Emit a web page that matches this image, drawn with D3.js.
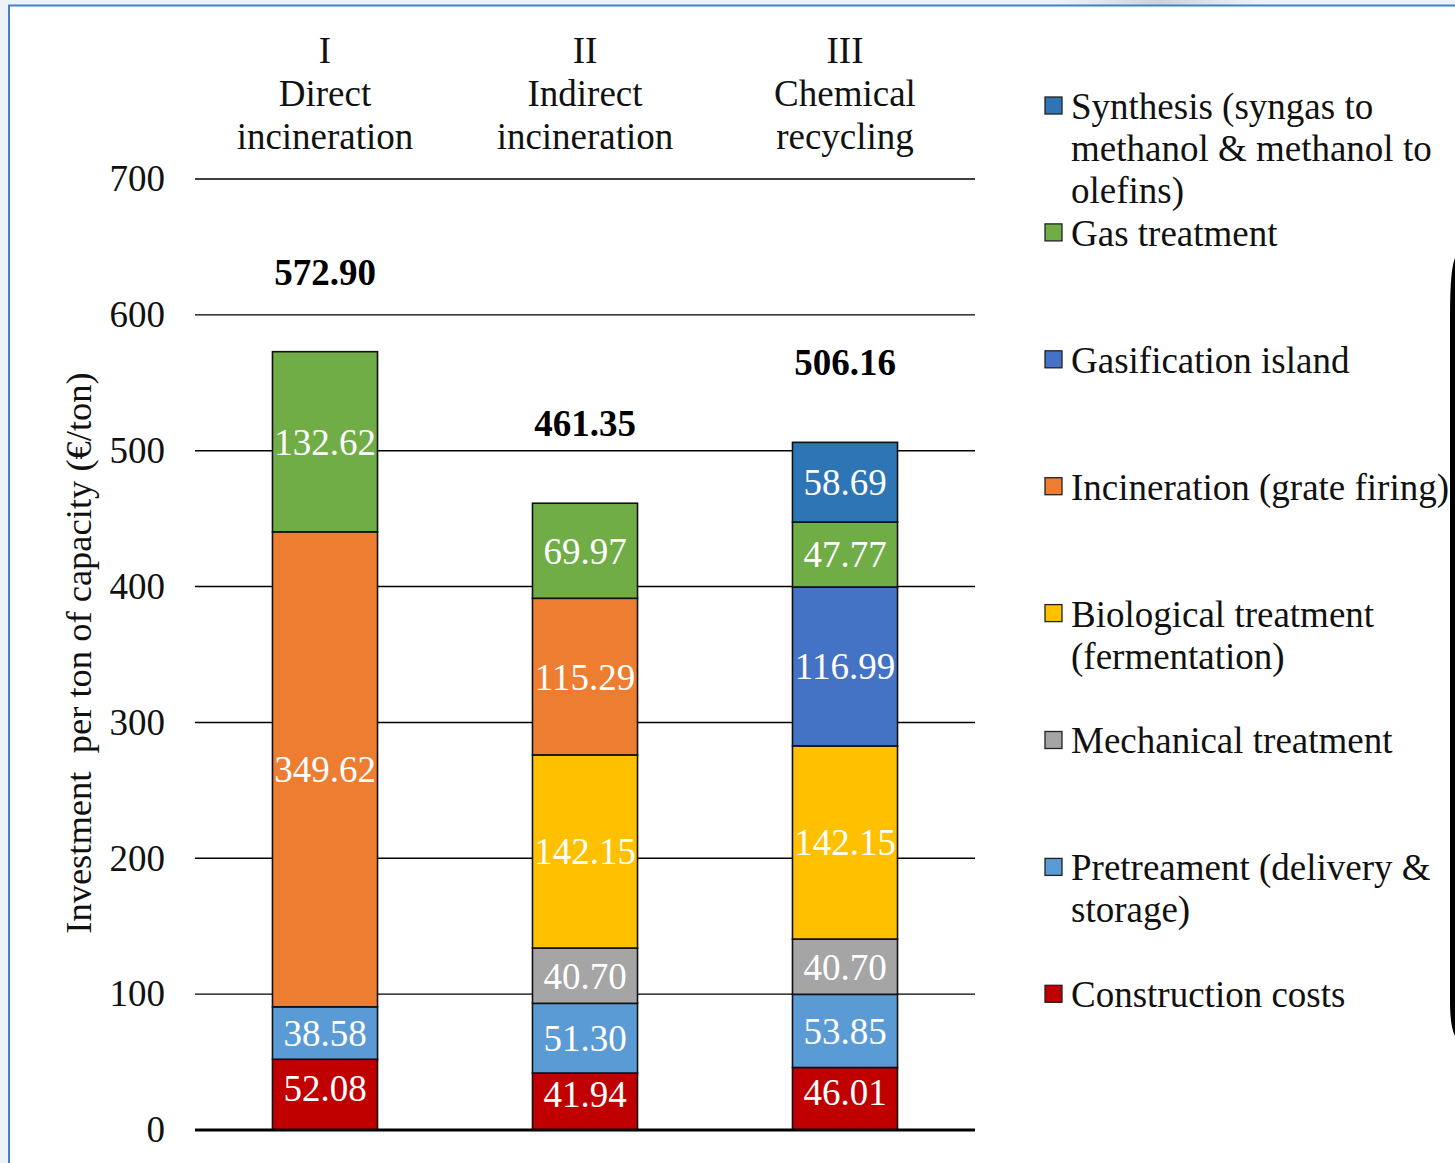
<!DOCTYPE html>
<html>
<head>
<meta charset="utf-8">
<script src="https://cdn.jsdelivr.net/npm/d3@7"></script>
<style>
  html, body { margin: 0; padding: 0; background: #eef2f8; }
  svg { display: block; }
</style>
</head>
<body>
<svg id="chart" width="1455" height="1163"></svg>
<script>
// Investment per ton of capacity by plant concept (€/ton)
const categories = ["I\nDirect\nincineration", "II\nIndirect\nincineration", "III\nChemical\nrecycling"];
const components = [
  "Construction costs",
  "Pretreament (delivery & storage)",
  "Mechanical treatment",
  "Biological treatment (fermentation)",
  "Incineration (grate firing)",
  "Gasification island",
  "Gas treatment",
  "Synthesis (syngas to methanol & methanol to olefins)"
];
const componentColors = ["#C00000", "#5B9BD5", "#A5A5A5", "#FFC000", "#ED7D31", "#4472C4", "#70AD47", "#2E75B6"];
// values per component, ordered like categories
const construction = [52.08, 41.94, 46.01];
const pretreatment = [38.58, 51.30, 53.85];
const mechanical   = [0, 40.70, 40.70];
const biological   = [0, 142.15, 142.15];
const incineration = [349.62, 115.29, 0];
const gasification = [0, 0, 116.99];
const gasTreatment = [132.62, 69.97, 47.77];
const synthesis    = [0, 0, 58.69];
const totals = [572.90, 461.35, 506.16];
const yTicks = [0, 100, 200, 300, 400, 500, 600, 700];
// legend text lines (top to bottom)
const legendLines = [
  ["Synthesis (syngas to", "methanol & methanol to", "olefins)"],
  ["Gas treatment"],
  ["Gasification island"],
  ["Incineration (grate firing)"],
  ["Biological treatment", "(fermentation)"],
  ["Mechanical treatment"],
  ["Pretreament (delivery &", "storage)"],
  ["Construction costs"]
];

const seriesValues = [construction, pretreatment, mechanical, biological, incineration, gasification, gasTreatment, synthesis];
const table = categories.map((c, i) => {
  const row = { category: c };
  components.forEach((k, j) => row[k] = seriesValues[j][i]);
  return row;
});

const svg = d3.select("#chart");
const W = 1455, H = 1163;
const font = "'Liberation Serif', 'Times New Roman', serif";
const fs = 37;

// page frame
svg.append("rect").attr("x", 9).attr("y", 5).attr("width", W - 9).attr("height", H - 5)
  .attr("fill", "#ffffff");
const shade = svg.append("defs").append("linearGradient").attr("id", "topShade");
shade.append("stop").attr("offset", "0").attr("stop-color", "#eef2f8");
shade.append("stop").attr("offset", "0.5").attr("stop-color", "#cfd2dc");
shade.append("stop").attr("offset", "1").attr("stop-color", "#eef2f8");
svg.append("rect").attr("x", 1060).attr("y", 0).attr("width", 200).attr("height", 5).attr("fill", "url(#topShade)");
svg.append("path").attr("d", `M9,${H} V5.5 H${W}`).attr("fill", "none")
  .attr("stroke", "#3f83c4").attr("stroke-width", 2);
svg.append("path")
  .attr("d", "M1455,258 C1451,268 1450,290 1450,320 L1450,1000 C1450,1015 1451,1028 1455,1036 Z")
  .attr("fill", "#000");

const x = d3.scaleBand().domain(categories).range([195, 975]).paddingInner(0.596).paddingOuter(0.298);
const y = d3.scaleLinear().domain([0, 700]).range([1130, 179]);

// gridlines
const grid = svg.append("g");
grid.selectAll("line").data(yTicks.filter(t => t > 0)).join("line")
  .attr("x1", 195).attr("x2", 975)
  .attr("y1", d => y(d)).attr("y2", d => y(d))
  .attr("stroke", "#000").attr("stroke-width", 1.4);

// y axis labels
const yAxis = svg.append("g").attr("transform", "translate(195,0)")
  .call(d3.axisLeft(y).tickValues(yTicks).tickSize(0).tickPadding(30));
yAxis.select(".domain").remove();
yAxis.selectAll("text").attr("font-family", font).attr("font-size", fs).attr("fill", "#111");

// stacked bars
const stack = d3.stack().keys(components);
const layers = stack(table);
const segs = svg.append("g");
layers.forEach((layer, j) => {
  const g = segs.append("g");
  layer.forEach(d => {
    const v = d[1] - d[0];
    if (v <= 0) return;
    const cx = x(d.data.category);
    g.append("rect")
      .attr("x", cx).attr("width", x.bandwidth())
      .attr("y", y(d[1])).attr("height", y(d[0]) - y(d[1]))
      .attr("fill", componentColors[j]).attr("stroke", "#111").attr("stroke-width", 1.6);
    // labels of the bottom segment sit a little higher, clear of the base line
    const lift = j === 0 ? 7 : 0;
    g.append("text")
      .attr("x", cx + x.bandwidth() / 2).attr("y", y((d[0] + d[1]) / 2) - lift)
      .attr("dy", "0.35em").attr("text-anchor", "middle")
      .attr("font-family", font).attr("font-size", fs).attr("fill", "#fff")
      .text(v.toFixed(2));
  });
});

// baseline
svg.append("line").attr("x1", 195).attr("x2", 975).attr("y1", y(0)).attr("y2", y(0))
  .attr("stroke", "#000").attr("stroke-width", 3);

// totals
svg.append("g").selectAll("text").data(totals).join("text")
  .attr("x", (d, i) => x(categories[i]) + x.bandwidth() / 2)
  .attr("y", d => y(d) - 80).attr("dy", "0.35em")
  .attr("text-anchor", "middle").attr("font-family", font).attr("font-size", fs)
  .attr("font-weight", "bold").attr("fill", "#000")
  .text(d => d.toFixed(2));

// category headers
categories.forEach(c => {
  const t = svg.append("text").attr("text-anchor", "middle")
    .attr("font-family", font).attr("font-size", fs).attr("fill", "#111");
  c.split("\n").forEach((line, k) => {
    t.append("tspan").attr("x", x(c) + x.bandwidth() / 2).attr("y", 50 + k * 43)
      .attr("dy", "0.35em").text(line);
  });
});

// y axis title
svg.append("text")
  .attr("transform", "translate(78,653) rotate(-90)")
  .attr("text-anchor", "middle").attr("dy", "0.35em")
  .attr("font-family", font).attr("font-size", 36.5).attr("fill", "#111")
  .attr("xml:space", "preserve")
  .text("Investment  per ton of capacity (€/ton)");

// legend (top entry = last stacked component)
const legend = svg.append("g");
legendLines.forEach((lines, i) => {
  const cy = 106 + i * 126.9;
  const ci = components.length - 1 - i;
  legend.append("rect").attr("x", 1045).attr("y", cy - 9).attr("width", 17).attr("height", 17)
    .attr("fill", componentColors[ci]).attr("stroke", "#222").attr("stroke-width", 1.3);
  const t = legend.append("text").attr("font-family", font).attr("font-size", fs).attr("fill", "#111");
  lines.forEach((line, k) => {
    t.append("tspan").attr("x", 1071).attr("y", cy + k * 42).attr("dy", "0.35em").text(line);
  });
});
</script>
</body>
</html>
